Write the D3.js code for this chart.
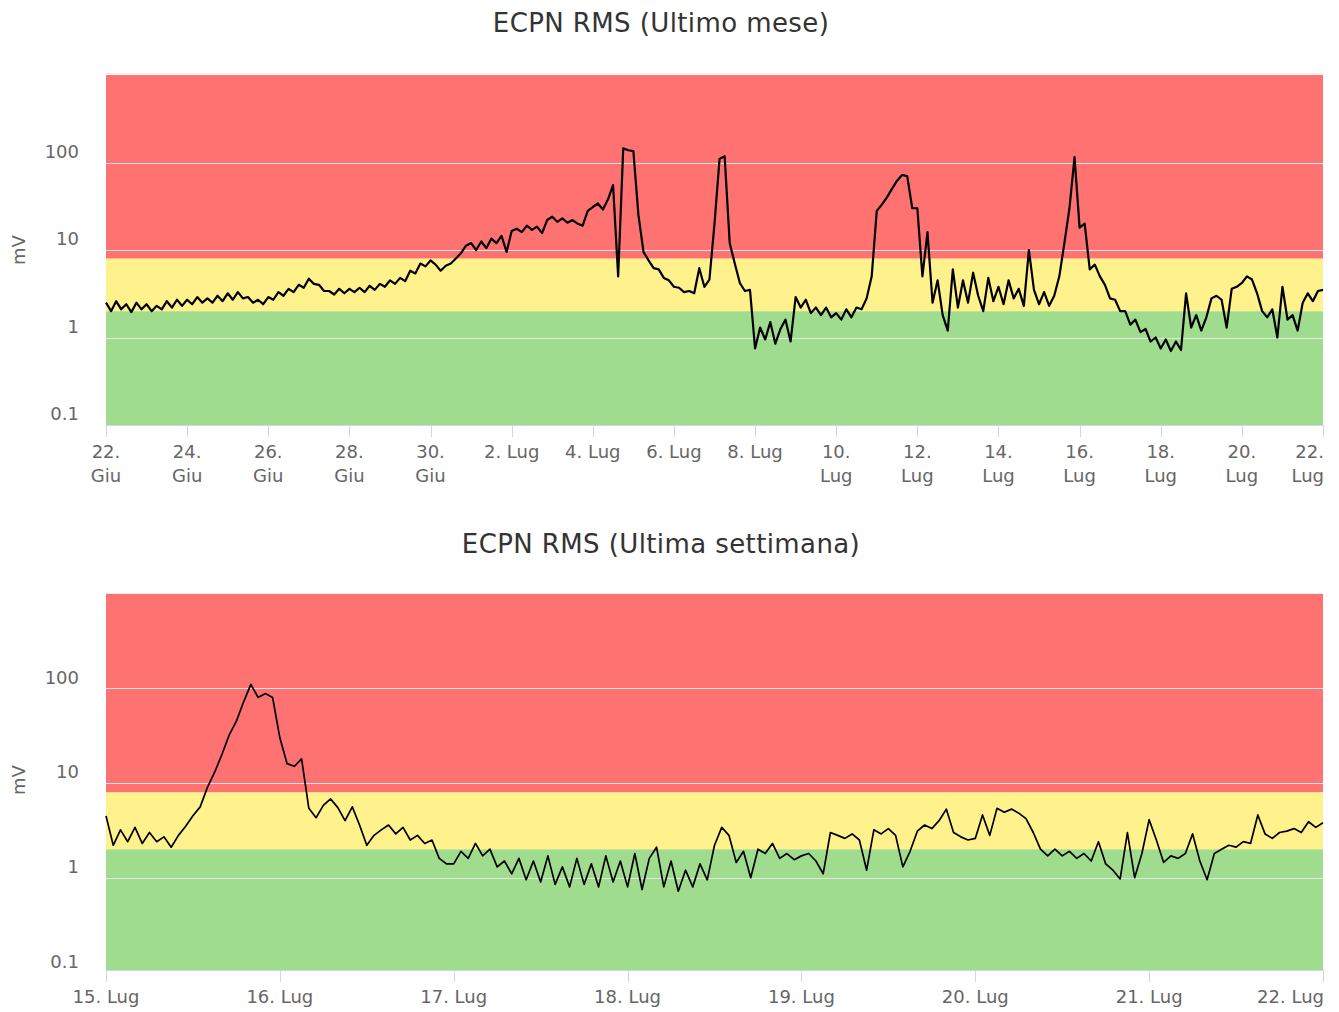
<!DOCTYPE html>
<html>
<head>
<meta charset="utf-8">
<script src="https://cdnjs.cloudflare.com/ajax/libs/d3/7.8.5/d3.min.js"></script>
<style>
  body { margin: 0; background: #fff; }
  svg { font-family: "DejaVu Sans", "Open Sans", sans-serif; }
</style>
</head>
<body>
<svg id="root" width="1339" height="1012"></svg>
<script>
// ---- data: last month, one reading every 3 hours from 22 Giu
const monthStart = "2018-06-22T00:00:00Z"
const monthStepHours = 3
const monthValues = [
  2.5, 2.0, 2.6, 2.1, 2.4, 1.95, 2.5, 2.1,
  2.4, 2.0, 2.3, 2.1, 2.6, 2.2, 2.7, 2.3,
  2.7, 2.4, 2.9, 2.5, 2.8, 2.5, 3.0, 2.6,
  3.2, 2.7, 3.3, 2.8, 2.9, 2.5, 2.7, 2.4,
  2.9, 2.7, 3.3, 3.0, 3.6, 3.3, 4.0, 3.7,
  4.7, 4.1, 4.0, 3.4, 3.4, 3.1, 3.6, 3.2,
  3.6, 3.3, 3.7, 3.3, 3.9, 3.5, 4.1, 3.8,
  4.5, 4.1, 4.8, 4.4, 5.8, 5.4, 7.0, 6.5,
  7.6, 6.8, 5.8, 6.6, 7.0, 8.0, 9.2, 11.2,
  12, 10, 12.5, 10.5, 13.5, 12, 14.5, 9.5,
  16.5, 17.5, 16, 19, 17, 18.5, 15.6, 22,
  24, 21, 23, 20.5, 22, 20, 19, 28,
  31, 34, 29, 38, 55, 5, 145, 138,
  135, 25, 9.5, 7.6, 6.2, 6.0, 4.8, 4.5,
  3.8, 3.7, 3.3, 3.4, 3.2, 6.2, 3.8, 4.6,
  20, 110, 118, 12, 7, 4.2, 3.4, 3.5,
  0.75, 1.3, 0.95, 1.5, 0.85, 1.25, 1.6, 0.9,
  2.9, 2.2, 2.7, 1.9, 2.2, 1.8, 2.2, 1.7,
  1.9, 1.6, 2.1, 1.7, 2.2, 2.1, 2.8, 5.0,
  28, 33, 40, 50, 62, 72, 70, 30,
  30, 5, 16, 2.5, 4.5, 1.8, 1.2, 6,
  2.2, 4.5, 2.5, 5.5, 3.0, 2.0, 4.8, 2.6,
  3.8, 2.4, 4.5, 2.8, 3.6, 2.3, 10, 3.5,
  2.4, 3.3, 2.3, 3.0, 5.0, 12, 30, 115,
  18, 20, 6, 6.8, 5.0, 4.0, 2.8, 2.7,
  2.0, 2.0, 1.4, 1.6, 1.15, 1.25, 0.9, 1.0,
  0.75, 0.95, 0.7, 0.9, 0.72, 3.2, 1.3, 1.8,
  1.2, 1.7, 2.8, 3.0, 2.7, 1.3, 3.6, 3.8,
  4.2, 5.0, 4.6, 3.2, 2.0, 1.7, 2.1, 1.0,
  3.8, 1.6, 1.8, 1.2, 2.5, 3.2, 2.6, 3.4,
  3.5
]
const monthTicks = ["2018-06-22", "2018-06-24", "2018-06-26", "2018-06-28", "2018-06-30",
  "2018-07-02", "2018-07-04", "2018-07-06", "2018-07-08", "2018-07-10", "2018-07-12",
  "2018-07-14", "2018-07-16", "2018-07-18", "2018-07-20", "2018-07-22"]
const monthTickLabels = [["22.", "Giu"], ["24.", "Giu"], ["26.", "Giu"], ["28.", "Giu"], ["30.", "Giu"],
  ["2. Lug"], ["4. Lug"], ["6. Lug"], ["8. Lug"], ["10.", "Lug"], ["12.", "Lug"],
  ["14.", "Lug"], ["16.", "Lug"], ["18.", "Lug"], ["20.", "Lug"], ["22.", "Lug"]]

// ---- data: last week, one reading every hour from 15 Lug
const weekStart = "2018-07-15T00:00:00Z"
const weekStepHours = 1
const weekValues = [
  4.5, 2.2, 3.2, 2.4, 3.4, 2.3, 3.0, 2.4, 2.7, 2.1, 2.8, 3.5,
  4.5, 5.6, 9, 13, 20, 32, 45, 72, 110, 80, 88, 80,
  30, 16, 15, 18, 5.4, 4.3, 5.8, 6.8, 5.5, 4.0, 5.6, 3.6,
  2.2, 2.8, 3.2, 3.6, 2.9, 3.4, 2.5, 2.8, 2.3, 2.5, 1.6, 1.4,
  1.4, 1.9, 1.6, 2.3, 1.7, 2.0, 1.3, 1.5, 1.1, 1.6, 0.95, 1.5,
  0.9, 1.7, 0.85, 1.3, 0.8, 1.6, 0.85, 1.4, 0.8, 1.7, 0.9, 1.5,
  0.8, 1.8, 0.75, 1.6, 2.1, 0.8, 1.5, 0.72, 1.2, 0.8, 1.4, 0.95,
  2.2, 3.4, 2.8, 1.45, 1.9, 1.0, 2.0, 1.8, 2.3, 1.6, 1.8, 1.55,
  1.7, 1.8, 1.5, 1.1, 3.0, 2.8, 2.6, 2.9, 2.5, 1.2, 3.2, 2.9,
  3.3, 2.8, 1.3, 1.9, 3.1, 3.6, 3.3, 4.0, 5.3, 3.0, 2.7, 2.5,
  2.6, 4.6, 2.8, 5.4, 4.9, 5.3, 4.8, 4.2, 3.0, 2.0, 1.7, 2.0,
  1.7, 1.9, 1.6, 1.8, 1.5, 2.4, 1.4, 1.2, 0.97, 3.0, 1.0, 1.8,
  4.1, 2.5, 1.45, 1.7, 1.6, 1.8, 2.9, 1.5, 0.95, 1.8, 2.0, 2.2,
  2.1, 2.4, 2.3, 4.6, 2.9, 2.6, 3.0, 3.1, 3.3, 3.0, 3.9, 3.4,
  3.8
]
const weekTicks = ["2018-07-15", "2018-07-16", "2018-07-17", "2018-07-18",
  "2018-07-19", "2018-07-20", "2018-07-21", "2018-07-22"]
const weekTickLabels = [["15. Lug"], ["16. Lug"], ["17. Lug"], ["18. Lug"],
  ["19. Lug"], ["20. Lug"], ["21. Lug"], ["22. Lug"]]

// ---- shared y axis and alarm bands (mV)
const yTicks = [0.1, 1, 10, 100]
const bandLimits = [2, 8]
const bandColors = ["#a0dc8d", "#fff18b", "#ff7272"]

const svg = d3.select('#root')

/**
 * Draws one panel: title, coloured bands, grid, axes and the RMS line.
 */
let buildPanel = (cfg) => {
  const { left, right, top, bottom } = cfg
  const g = svg.append('g')

  const x = d3.scaleUtc()
    .domain([new Date(cfg.ticks[0]), new Date(cfg.ticks[cfg.ticks.length - 1])])
    .range([left, right])
  const y = d3.scaleLog()
    .domain([0.1, 1000])
    .range([cfg.yZero, cfg.yTop])

  // Title
  g.append('text')
    .attr('x', 661).attr('y', cfg.titleY)
    .attr('text-anchor', 'middle')
    .style('font-size', '26px')
    .style('letter-spacing', '0.4px')
    .style('fill', '#333')
    .text(cfg.title)

  // Bands, clamped to the plot area
  const edges = [0.1, ...bandLimits, 1000]
  const clampY = v => Math.max(top, Math.min(bottom, y(v)))
  g.selectAll('.band').data(bandColors).enter()
    .append('rect')
    .attr('class', 'band')
    .attr('x', left)
    .attr('width', right - left)
    .attr('y', (d, i) => clampY(edges[i + 1]))
    .attr('height', (d, i) => clampY(edges[i]) - clampY(edges[i + 1]))
    .attr('fill', d => d)

  // Grid lines
  g.selectAll('.grid').data(yTicks.filter(t => y(t) < bottom - 1)).enter()
    .append('line')
    .attr('x1', left).attr('x2', right)
    .attr('y1', d => Math.round(y(d)) + 0.5)
    .attr('y2', d => Math.round(y(d)) + 0.5)
    .attr('stroke', '#e6e6e6')
  g.append('line')
    .attr('x1', left).attr('x2', right)
    .attr('y1', top + 0.5).attr('y2', top + 0.5)
    .attr('stroke', '#ececec')

  // Y labels
  g.selectAll('.ylab').data(yTicks).enter()
    .append('text')
    .attr('x', 79)
    .attr('y', d => y(d) - 11)
    .attr('dy', '0.35em')
    .attr('text-anchor', 'end')
    .style('font-size', '18px')
    .style('fill', '#666')
    .text(d => d3.format('~')(d))

  g.append('text')
    .attr('transform', `translate(25, ${cfg.unitY}) rotate(-90)`)
    .attr('text-anchor', 'middle')
    .style('font-size', '18px')
    .style('fill', '#666')
    .text('mV')

  // X axis line and ticks
  g.append('line')
    .attr('x1', left).attr('x2', right)
    .attr('y1', bottom + 0.5).attr('y2', bottom + 0.5)
    .attr('stroke', '#ccd6eb')
  g.selectAll('.xtick').data(cfg.ticks).enter()
    .append('line')
    .attr('x1', d => Math.round(x(new Date(d))) + 0.5)
    .attr('x2', d => Math.round(x(new Date(d))) + 0.5)
    .attr('y1', bottom).attr('y2', bottom + 12)
    .attr('stroke', '#ccd6eb')

  const last = cfg.ticks.length - 1
  g.selectAll('.xlab').data(cfg.ticks).enter()
    .append('text')
    .attr('x', (d, i) => i === last ? right + 1 : x(new Date(d)))
    .attr('y', cfg.labelY)
    .attr('text-anchor', (d, i) => i === last ? 'end' : 'middle')
    .style('font-size', '18px')
    .style('fill', '#666')
    .each(function (d, i) {
      const el = d3.select(this)
      cfg.labels[i].forEach((line, k) => {
        el.append('tspan')
          .attr('x', i === last ? right + 1 : x(new Date(d)))
          .attr('dy', k === 0 ? 0 : 24)
          .text(line)
      })
    })

  // RMS line
  const t0 = new Date(cfg.start).getTime()
  const pts = cfg.values.map((v, i) => [new Date(t0 + i * cfg.step * 3600e3), v])
  g.append('path')
    .datum(pts)
    .attr('fill', 'none')
    .attr('stroke', '#000')
    .attr('stroke-width', cfg.lineWidth)
    .attr('stroke-linejoin', 'round')
    .attr('d', d3.line().x(d => x(d[0])).y(d => y(d[1])))
}

buildPanel({
  title: 'ECPN RMS (Ultimo mese)', titleY: 32,
  left: 106, right: 1323, top: 73, bottom: 425,
  yZero: 425, yTop: 75, unitY: 250, labelY: 458,
  ticks: monthTicks, labels: monthTickLabels,
  start: monthStart, step: monthStepHours, values: monthValues, lineWidth: 2.2
})

buildPanel({
  title: 'ECPN RMS (Ultima settimana)', titleY: 553,
  left: 106, right: 1323, top: 593, bottom: 970,
  yZero: 972.4, yTop: 593.6, unitY: 780, labelY: 1003,
  ticks: weekTicks, labels: weekTickLabels,
  start: weekStart, step: weekStepHours, values: weekValues, lineWidth: 1.7
})
</script>
</body>
</html>
